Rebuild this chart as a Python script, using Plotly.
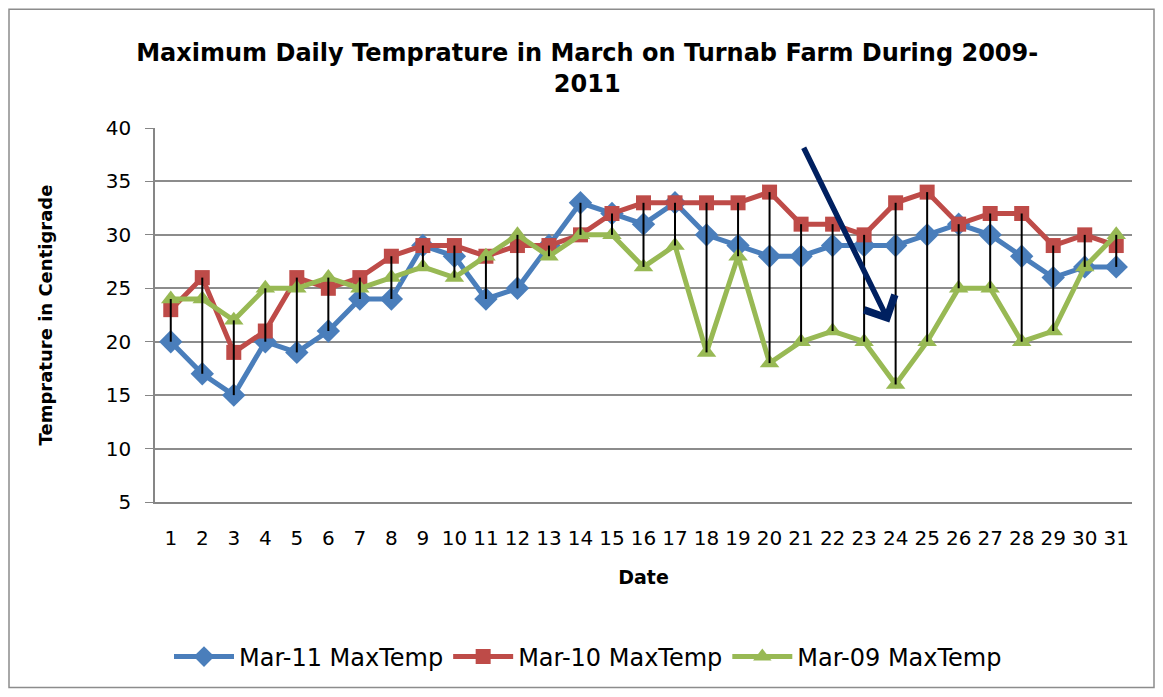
import plotly.graph_objects as go

days = list(range(1, 32))
mar11 = [20, 17, 15, 20, 19, 21, 24, 24, 29, 28, 24, 25, 29, 33, 32, 31, 33, 30, 29, 28, 28, 29, 29, 29, 30, 31, 30, 28, 26, 27, 27]
mar10 = [23, 26, 19, 21, 26, 25, 26, 28, 29, 29, 28, 29, 29, 30, 32, 33, 33, 33, 33, 34, 31, 31, 30, 33, 34, 31, 32, 32, 29, 30, 29]
mar09 = [24, 24, 22, 25, 25, 26, 25, 26, 27, 26, 28, 30, 28, 30, 30, 27, 29, 19, 28, 18, 20, 21, 20, 16, 20, 25, 25, 20, 21, 27, 30]

FONT = "DejaVu Sans"
W, H = 1147, 682
ML, MR, MT, MB = 147, 23, 120, 187
PW, PH = W - ML - MR, H - MT - MB

fig = go.Figure()

series = [
    ("Mar-11 MaxTemp", mar11, "#4A7EBB", "diamond", 18),
    ("Mar-10 MaxTemp", mar10, "#BE4B48", "square", 15),
    ("Mar-09 MaxTemp", mar09, "#98B954", "triangle-up", 17),
]
for name, vals, col, sym, sz in series:
    fig.add_trace(go.Scatter(
        x=days, y=vals, name=name, mode="lines+markers",
        line=dict(color=col, width=5),
        marker=dict(symbol=sym, size=sz, color=col, line=dict(width=0)),
    ))

# high-low lines
hx, hy = [], []
for i, d in enumerate(days):
    lo = min(mar11[i], mar10[i], mar09[i])
    hi = max(mar11[i], mar10[i], mar09[i])
    hx += [d, d, None]
    hy += [lo, hi, None]
fig.add_trace(go.Scatter(x=hx, y=hy, mode="lines", line=dict(color="black", width=2),
                         showlegend=False, hoverinfo="skip"))

fig.add_annotation(x=23.8, y=21.8, ax=21.06, ay=38.3, xref="x", yref="y", axref="x", ayref="y",
                   showarrow=True, arrowhead=4, arrowsize=1.2, arrowwidth=5.5, arrowcolor="#002060", text="")

fig.add_shape(type="rect", xref="paper", yref="paper",
              x0=-(ML - 1) / PW, x1=1 + (MR - 1) / PW, y0=-(MB - 1) / PH, y1=1 + (MT - 1) / PH,
              line=dict(color="#8C8C8C", width=1.5), fillcolor="rgba(0,0,0,0)", layer="below")

fig.update_layout(
    width=W, height=H,
    margin=dict(l=ML, r=MR, t=MT, b=MB),
    paper_bgcolor="white", plot_bgcolor="white",
    font=dict(family=FONT, size=20, color="black"),
    title=dict(text="<b>Maximum Daily Temprature in March on Turnab Farm During 2009-<br>2011</b>",
               x=0.505, xanchor="center", y=1 - 53 / H, yanchor="middle",
               font=dict(family=FONT, size=24, color="black")),
    xaxis=dict(range=[0.5, 31.5], tickvals=days, showgrid=False, showline=True,
               linecolor="#868686", linewidth=1.5, ticks="", tickfont=dict(size=20),
               ticklabelstandoff=17, zeroline=False,
               title=dict(text="<b>Date</b>", font=dict(size=19), standoff=22)),
    yaxis=dict(range=[5, 40], dtick=5, showgrid=True, gridcolor="#8C8C8C", gridwidth=1.5,
               showline=True, linecolor="#868686", linewidth=1.5, ticks="outside", ticklen=8,
               tickcolor="#868686", zeroline=False, tickfont=dict(size=20), ticklabelstandoff=10,
               title=dict(text="<b>Temprature in Centigrade</b>", font=dict(size=18), standoff=48)),
    legend=dict(orientation="h", x=(580 - ML) / PW, xanchor="center", y=-(657 - 503) / PH, yanchor="middle",
                font=dict(size=24), traceorder="normal", itemwidth=60),
    showlegend=True,
)

fig.write_html("out.html")
